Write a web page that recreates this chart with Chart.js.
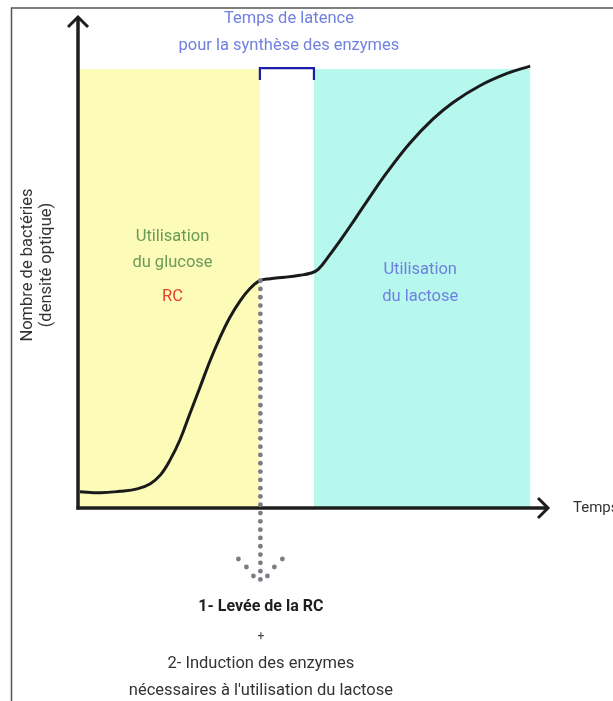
<!DOCTYPE html>
<html><head><meta charset="utf-8">
<script src="https://cdn.jsdelivr.net/npm/chart.js@4/dist/chart.umd.min.js"></script>
<style>html,body{margin:0;padding:0;background:#fff;}#wrap{width:613px;height:701px;position:relative;}</style>
</head><body><div id="wrap"><canvas id="c"></canvas></div>
<script>
// time (arbitrary units 0-100) and bacterial density (arbitrary units 0-100)
const temps = [0.4, 4.7, 8.9, 12.6, 15.3, 17.5, 19.6, 21.7, 23.8, 26.0, 28.1, 30.2, 32.3, 34.5, 36.6, 38.7, 40.9, 44.0, 47.2, 49.4, 51.1, 53.6, 56.4, 58.9, 61.5, 65.7, 70.6, 75.5, 79.8, 85.5, 91.3, 96.2];
const densite = [3.3, 3.1, 3.4, 3.9, 4.9, 6.7, 9.8, 13.9, 19.2, 24.7, 30.0, 34.7, 38.8, 42.2, 44.7, 46.3, 46.7, 47.0, 47.4, 47.8, 48.6, 51.6, 55.3, 58.8, 62.5, 68.3, 74.3, 79.2, 82.6, 86.0, 88.5, 90.0];
// phases: [start, end] on time axis
const phaseGlucose = [0, 38.7];
const phaseLatence = [38.7, 50.2];
const phaseLactose = [50.2, 96.2];
const phaseTop = 89.4;
const leveeRC = 38.7;

const plugin = {
  id: 'decor',
  beforeDatasetsDraw(chart) {
    const {ctx, scales:{x, y}} = chart;
    const top = y.getPixelForValue(phaseTop), bot = y.getPixelForValue(0);
    ctx.save();
    ctx.fillStyle = '#fdfbb8';
    ctx.fillRect(x.getPixelForValue(phaseGlucose[0]), top, x.getPixelForValue(phaseGlucose[1]) - x.getPixelForValue(phaseGlucose[0]), bot - top);
    ctx.fillStyle = '#b6f7ee';
    ctx.fillRect(x.getPixelForValue(phaseLactose[0]), top, x.getPixelForValue(phaseLactose[1]) - x.getPixelForValue(phaseLactose[0]), bot - top);
    // bracket
    const bx1 = x.getPixelForValue(phaseLatence[0]), bx2 = x.getPixelForValue(phaseLatence[1]);
    ctx.strokeStyle = '#1c1ca8'; ctx.lineWidth = 2.2;
    ctx.beginPath(); ctx.moveTo(bx1, top + 11); ctx.lineTo(bx1, top - 1); ctx.lineTo(bx2, top - 1); ctx.lineTo(bx2, top + 11); ctx.stroke();
    // frame
    ctx.strokeStyle = '#555'; ctx.lineWidth = 1.5;
    ctx.beginPath(); ctx.moveTo(11.5, 701); ctx.lineTo(11.5, 8); ctx.lineTo(613, 8); ctx.stroke();
    // texts
    ctx.textAlign = 'center'; ctx.textBaseline = 'middle';
    ctx.font = '16.5px Roboto';
    ctx.fillStyle = '#7080e0';
    ctx.fillText('Temps de latence', (bx1 + bx2) / 2 + 2, 19);
    ctx.fillText('pour la synthèse des enzymes', (bx1 + bx2) / 2 + 2, 46);
    const gx = x.getPixelForValue(20.1);
    ctx.fillStyle = '#6b9a58';
    ctx.fillText('Utilisation', gx, 237);
    ctx.fillText('du glucose', gx, 263);
    ctx.fillStyle = '#e5402e';
    ctx.fillText('RC', gx, 297);
    const lx = x.getPixelForValue(72.8);
    ctx.fillStyle = '#7080e0';
    ctx.fillText('Utilisation', lx, 270);
    ctx.fillText('du lactose', lx, 297);
    ctx.fillStyle = '#333';
    ctx.textAlign = 'left';
    ctx.font = '15px Roboto';
    ctx.fillText('Temps', 573, 508);
    ctx.font = '16.5px Roboto';
    ctx.textAlign = 'center';
    ctx.save(); ctx.translate(28, 265); ctx.rotate(-Math.PI / 2);
    ctx.fillText('Nombre de bactéries', 0, 0);
    ctx.restore();
    ctx.save(); ctx.translate(47, 265); ctx.rotate(-Math.PI / 2);
    ctx.fillText('(densité optique)', 0, 0);
    ctx.restore();
    const cx = x.getPixelForValue(leveeRC) + 1;
    ctx.fillStyle = '#1e1e1e';
    ctx.font = 'bold 16px Roboto';
    ctx.fillText('1- Levée de la RC', cx, 607);
    ctx.font = '12px Roboto';
    ctx.fillStyle = '#444';
    ctx.fillText('+', cx, 637);
    ctx.font = '16.5px Roboto';
    ctx.fillStyle = '#333';
    ctx.fillText('2- Induction des enzymes', cx, 664);
    ctx.fillText('nécessaires à l\'utilisation du lactose', cx, 691);
    ctx.restore();
  },
  afterDatasetsDraw(chart) {
    const {ctx, scales:{x, y}} = chart;
    ctx.save();
    // axes
    const x0 = x.getPixelForValue(0), y0 = y.getPixelForValue(0);
    ctx.strokeStyle = '#1e1e1e'; ctx.lineWidth = 3.5; ctx.lineCap = 'butt'; ctx.lineJoin = 'miter';
    ctx.beginPath(); ctx.moveTo(x0, y0 + 1.5); ctx.lineTo(x0, chart.chartArea.top + 1); ctx.stroke();
    ctx.beginPath(); ctx.moveTo(x0 - 1.5, y0); ctx.lineTo(chart.chartArea.right - 1, y0); ctx.stroke();
    ctx.lineWidth = 3;
    ctx.beginPath(); ctx.moveTo(x0 - 10, chart.chartArea.top + 10); ctx.lineTo(x0, chart.chartArea.top); ctx.lineTo(x0 + 10, chart.chartArea.top + 10); ctx.stroke();
    ctx.beginPath(); ctx.moveTo(chart.chartArea.right - 10, y0 - 10); ctx.lineTo(chart.chartArea.right, y0); ctx.lineTo(chart.chartArea.right - 10, y0 + 10); ctx.stroke();
    // dotted arrow
    const dx = x.getPixelForValue(leveeRC) + 0.5;
    const startY = y.getPixelForValue(46.3);
    ctx.fillStyle = '#7a7c86';
    const dot = (px, py) => { ctx.beginPath(); ctx.arc(px, py, 2.4, 0, Math.PI * 2); ctx.fill(); };
    for (let py = startY; py <= 585; py += 8.3) dot(dx, py);
    dot(dx - 22, 559); dot(dx + 22, 559);
    dot(dx - 14, 567); dot(dx + 14, 567);
    dot(dx - 7, 576); dot(dx + 7, 576);
    ctx.restore();
  }
};

new Chart(document.getElementById('c'), {
  type: 'line',
  data: {
    datasets: [{
      data: temps.map((t, i) => ({x: t, y: densite[i]})),
      borderColor: '#1a1a1a', borderWidth: 3, pointRadius: 0,
      tension: 0.4, fill: false
    }]
  },
  options: {
    responsive: true, maintainAspectRatio: false, animation: false,
    layout: {padding: {left: 78, right: 65, top: 17, bottom: 193}},
    plugins: {legend: {display: false}, tooltip: {enabled: false}},
    scales: {
      x: {type: 'linear', min: 0, max: 100, display: false},
      y: {min: 0, max: 100, display: false}
    }
  },
  plugins: [plugin]
});
</script></body></html>
